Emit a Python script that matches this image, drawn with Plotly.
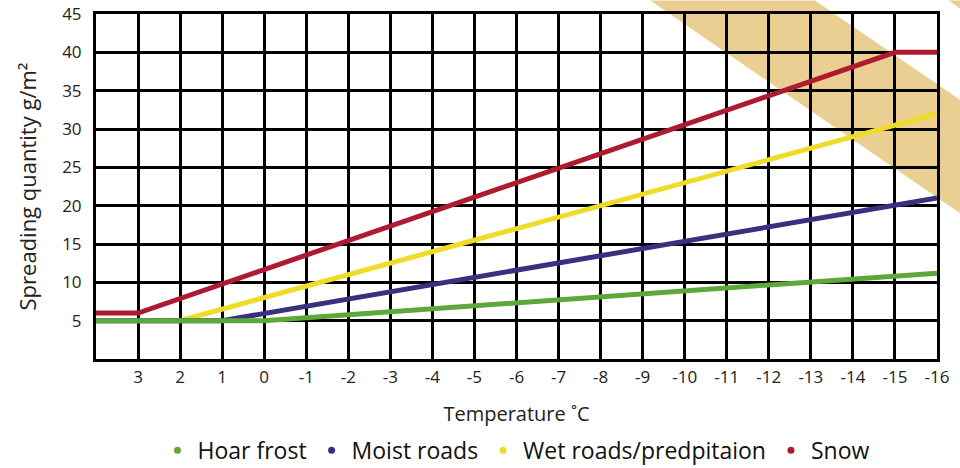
import plotly.graph_objects as go

# ---- data ----
hoar_x = [4, 0, -16]
hoar_y = [5, 5, 11.2]
moist_x = [4, 1, -16]
moist_y = [5, 5, 21]
wet_x = [4, 2, -16]
wet_y = [5, 5, 32]
snow_x = [4, 3, -15, -16]
snow_y = [6, 6, 40, 40]

series_names = ["Hoar frost", "Moist roads", "Wet roads/predpitaion", "Snow"]
series_colors = ["#5DA83A", "#3B2F80", "#EEDC26", "#AE1A30"]

x_tick_vals = list(range(3, -17, -1))
x_tick_text = [str(v) for v in x_tick_vals]
y_tick_vals = [5, 10, 15, 20, 25, 30, 35, 40, 45]
y_tick_text = [str(v) for v in y_tick_vals]

x_range = [4, -16]
y_range = [0, 45]

# diagonal band (data units, may extend past the axes)
band_main_x = [-9.18, -13.10, -16.55, -16.55]
band_main_y = [46.76, 46.76, 33.8, 19.0]
band_corner_x = [-16.27, -16.55, -16.55]
band_corner_y = [46.76, 46.76, 45.7]
band_color = "#EBCF92"

FONT = "Open Sans"
TXT = "#222222"


def to_paper_path(xs, ys):
    pts = []
    for x, y in zip(xs, ys):
        px = (x - x_range[0]) / (x_range[1] - x_range[0])
        py = (y - y_range[0]) / (y_range[1] - y_range[0])
        pts.append(f"{px:.4f},{py:.4f}")
    return "M" + " L".join(pts) + " Z"


fig = go.Figure()

all_x = [hoar_x, moist_x, wet_x, snow_x]
all_y = [hoar_y, moist_y, wet_y, snow_y]
# draw snow first, hoar frost last (green on top of shared 5 g/m² segment)
for name, color, xs, ys in reversed(list(zip(series_names, series_colors, all_x, all_y))):
    fig.add_trace(go.Scatter(x=xs, y=ys, mode="lines", line=dict(color=color, width=5),
                             showlegend=False, hoverinfo="skip"))
for name, color in zip(series_names, series_colors):
    fig.add_trace(go.Scatter(x=[None], y=[None], mode="markers", name=name,
                             marker=dict(color=color, size=7)))

for xs, ys in [(band_main_x, band_main_y), (band_corner_x, band_corner_y)]:
    fig.add_shape(type="path", path=to_paper_path(xs, ys), xref="paper", yref="paper",
                  fillcolor=band_color, line=dict(width=0), layer="below")

fig.update_layout(
    width=960, height=468,
    margin=dict(l=96, r=23, t=14, b=109),
    paper_bgcolor="white",
    plot_bgcolor="rgba(0,0,0,0)",
    font=dict(family=FONT, color=TXT),
    showlegend=True,
    legend=dict(orientation="h", x=0.5, xanchor="center",
                yref="container", y=0.038, yanchor="middle",
                font=dict(size=23, color="#111111"), itemwidth=30,
                bgcolor="rgba(0,0,0,0)"),
    xaxis=dict(range=x_range, tickvals=x_tick_vals, ticktext=x_tick_text,
               showgrid=True, gridcolor="black", gridwidth=3,
               showline=True, linecolor="black", linewidth=3, mirror=True,
               zeroline=False, ticks="", ticklabelstandoff=1, automargin=False,
               tickfont=dict(size=17, color=TXT),
               title=dict(text="Temperature ˚C", font=dict(size=20, color=TXT), standoff=20)),
    yaxis=dict(range=y_range, tickvals=y_tick_vals, ticktext=y_tick_text,
               showgrid=True, gridcolor="black", gridwidth=3,
               showline=True, linecolor="black", linewidth=3, mirror=True,
               zeroline=False, ticks="", ticklabelstandoff=8, automargin=False,
               tickfont=dict(size=17, color=TXT),
               title=dict(text="Spreading quantity g/m²", font=dict(size=22, color=TXT), standoff=20)),
)

fig.write_html("out.html", config={"displayModeBar": False},
               post_script="document.body.style.margin='0';document.body.style.padding='0';")
